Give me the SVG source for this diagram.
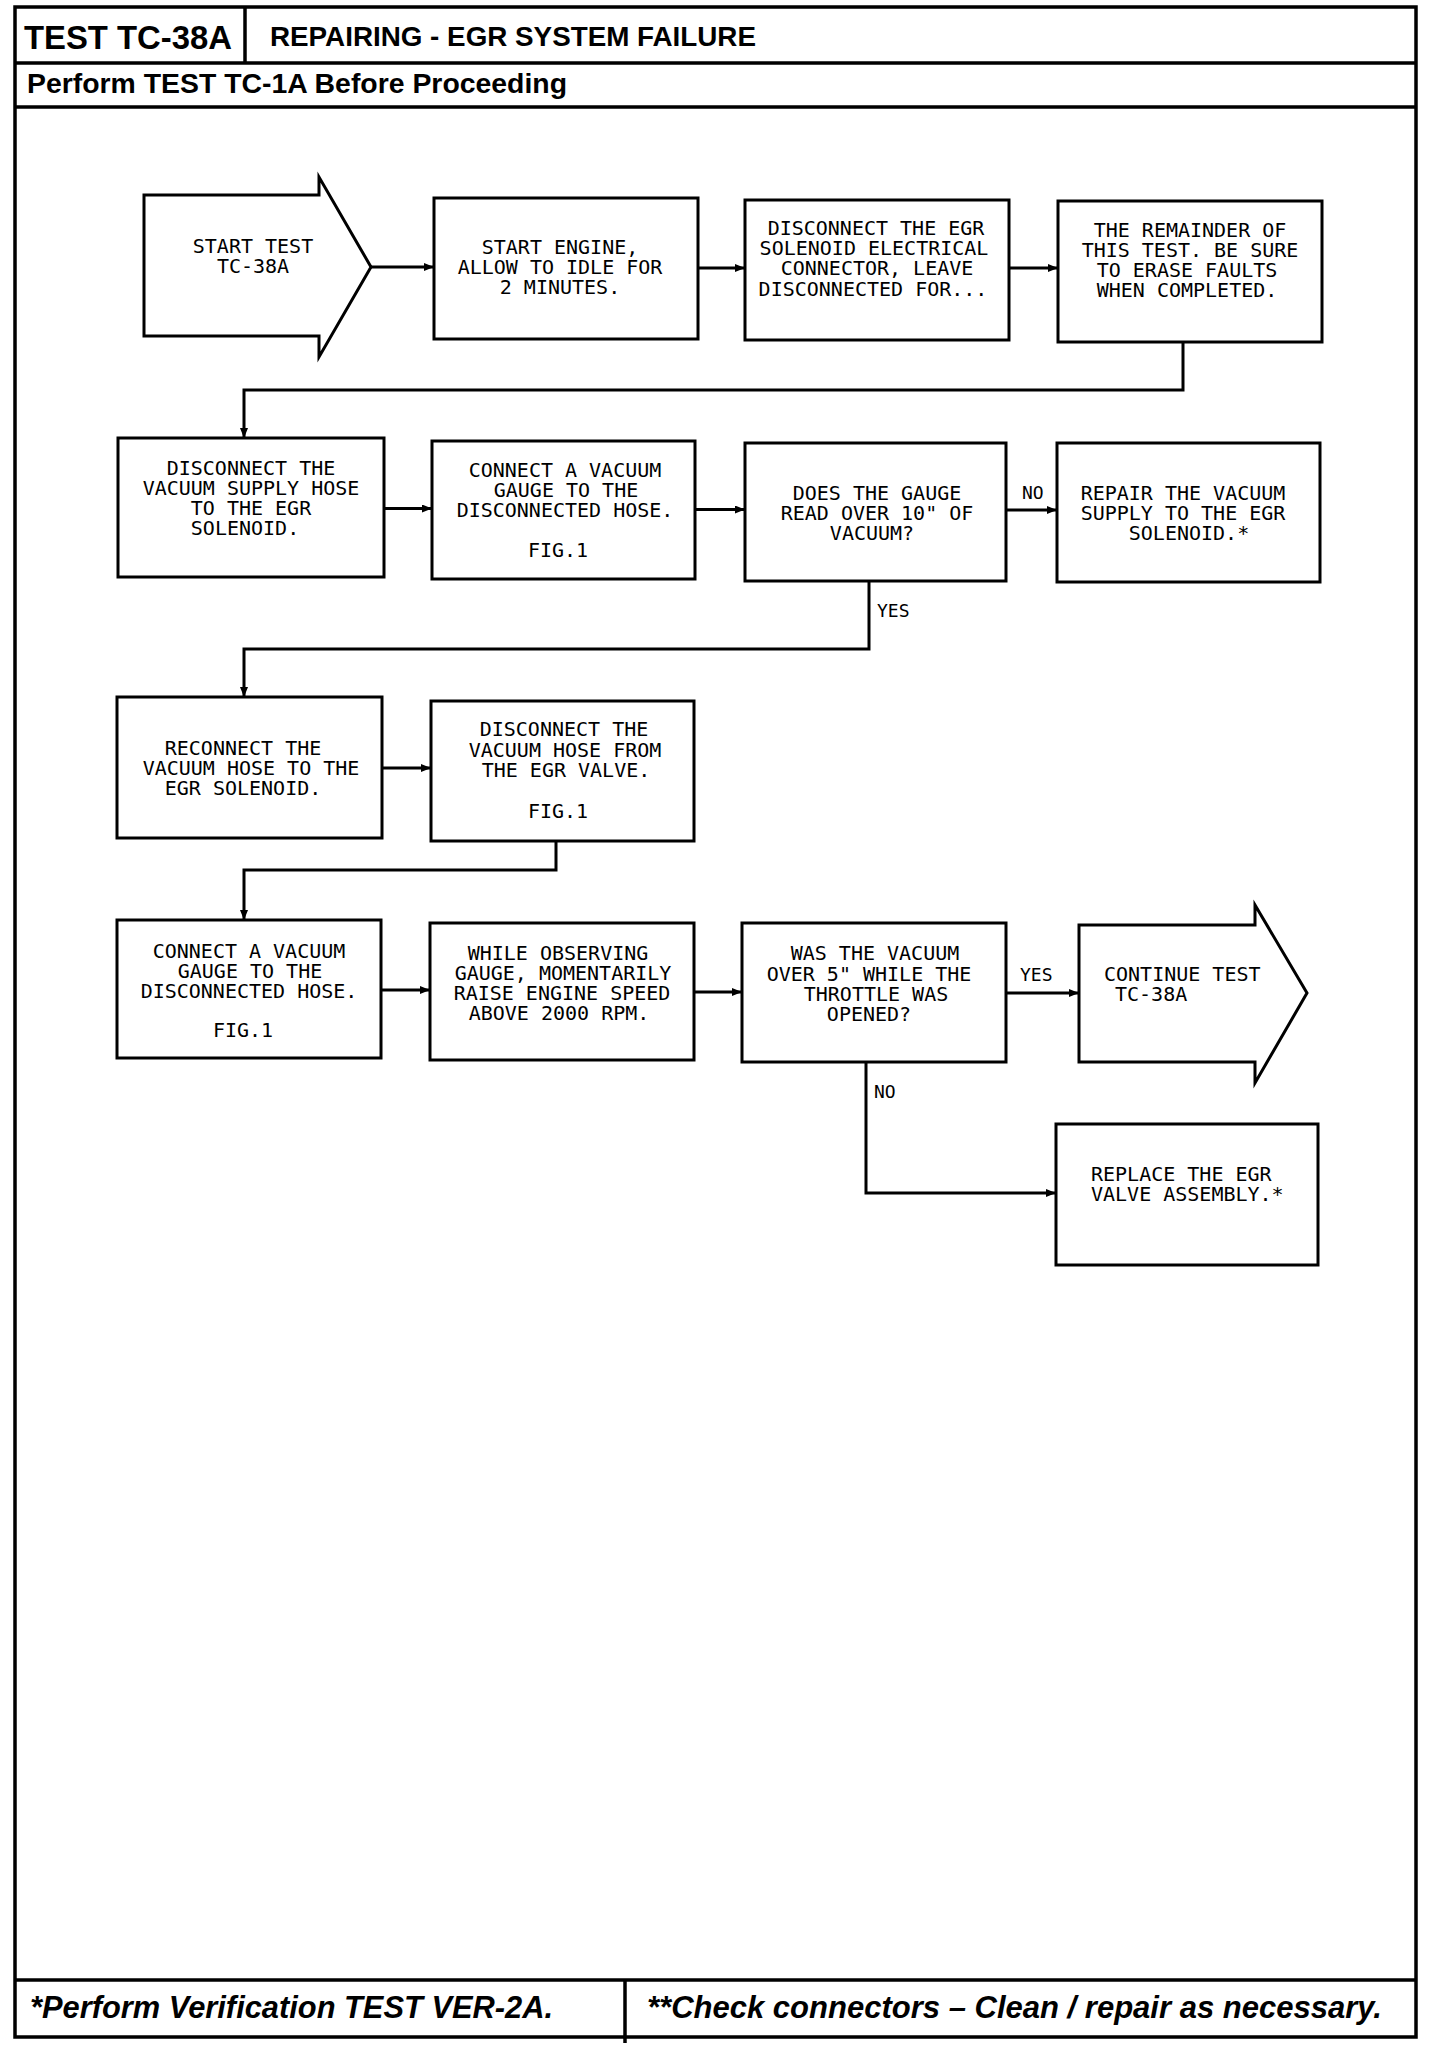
<svg xmlns="http://www.w3.org/2000/svg" width="1440" height="2048" viewBox="0 0 1440 2048">
<defs>
<marker id="ah" viewBox="0 0 10 8" refX="10" refY="4" markerWidth="10" markerHeight="8" markerUnits="userSpaceOnUse" orient="auto">
<path d="M0,0 L10,4 L0,8 Z" fill="#000"/>
</marker>
</defs>
<style>
.frame{fill:none;stroke:#000;stroke-width:3.5}
.box{fill:#fff;stroke:#000;stroke-width:3}
.con{fill:none;stroke:#000;stroke-width:3;marker-end:url(#ah)}
.t{font-family:"DejaVu Sans Mono","Liberation Mono",monospace;font-size:20px;fill:#000;text-anchor:middle}
.ts{font-family:"DejaVu Sans Mono","Liberation Mono",monospace;font-size:20px;fill:#000}
.lbl{font-family:"DejaVu Sans Mono","Liberation Mono",monospace;font-size:18px;fill:#000}
.hd{font-family:"Liberation Sans",Arial,sans-serif;font-weight:bold;fill:#000}
.ft{font-family:"Liberation Sans",Arial,sans-serif;font-weight:bold;font-style:italic;font-size:31px;fill:#000}
</style>
<rect width="1440" height="2048" fill="#fff"/>

<g id="frame">
<rect class="frame" x="15" y="7" width="1401" height="2030"/>
<line class="frame" x1="15" y1="63" x2="1416" y2="63"/>
<line class="frame" x1="245" y1="7" x2="245" y2="63"/>
<line class="frame" x1="15" y1="107" x2="1416" y2="107"/>
<line class="frame" x1="15" y1="1980" x2="1416" y2="1980"/>
<line class="frame" x1="625" y1="1980" x2="625" y2="2043"/>
<text class="hd" x="24" y="49" font-size="33" textLength="208" lengthAdjust="spacingAndGlyphs">TEST TC-38A</text>
<text class="hd" x="270" y="45.5" font-size="28" textLength="486" lengthAdjust="spacingAndGlyphs">REPAIRING - EGR SYSTEM FAILURE</text>
<text class="hd" x="27" y="93" font-size="28" textLength="540" lengthAdjust="spacingAndGlyphs">Perform TEST TC-1A Before Proceeding</text>
<text class="ft" x="30" y="2018" textLength="523" lengthAdjust="spacingAndGlyphs">*Perform Verification TEST VER-2A.</text>
<text class="ft" x="647" y="2018" textLength="735" lengthAdjust="spacingAndGlyphs">**Check connectors – Clean / repair as necessary.</text>
</g>

<g id="connectors">
<line class="con" x1="371" y1="267" x2="434" y2="267"/>
<line class="con" x1="698" y1="268" x2="745" y2="268"/>
<line class="con" x1="1009" y1="268" x2="1058" y2="268"/>
<path class="con" d="M1183,342 V390 H244 V438"/>
<line class="con" x1="384" y1="508.5" x2="432" y2="508.5"/>
<line class="con" x1="695" y1="509.5" x2="745" y2="509.5"/>
<line class="con" x1="1006" y1="510" x2="1057" y2="510"/>
<text class="lbl" x="1022" y="499">NO</text>
<path class="con" d="M869,581 V649 H244 V697"/>
<text class="lbl" x="877" y="617">YES</text>
<line class="con" x1="382" y1="768" x2="431" y2="768"/>
<path class="con" d="M556,841 V870 H244 V920"/>
<line class="con" x1="381" y1="990" x2="430" y2="990"/>
<line class="con" x1="694" y1="992" x2="742" y2="992"/>
<line class="con" x1="1006" y1="993" x2="1079" y2="993"/>
<text class="lbl" x="1020" y="981">YES</text>
<path class="con" d="M866,1062 V1193 H1056"/>
<text class="lbl" x="874" y="1098">NO</text>
</g>

<g id="n1">
<polygon class="box" points="144,195 319,195 319,177 371,267 319,357 319,336 144,336"/>
<text class="t" x="253" y="253">START TEST</text>
<text class="t" x="253" y="273">TC-38A</text>
</g>

<g id="n2">
<rect class="box" x="434" y="198" width="264" height="141"/>
<text class="t" x="560" y="254">START ENGINE,</text>
<text class="t" x="560" y="274">ALLOW TO IDLE FOR</text>
<text class="t" x="560" y="294">2 MINUTES.</text>
</g>

<g id="n3">
<rect class="box" x="745" y="200" width="264" height="140"/>
<text class="t" x="876" y="235">DISCONNECT THE EGR</text>
<text class="t" x="874" y="255">SOLENOID ELECTRICAL</text>
<text class="t" x="877" y="275">CONNECTOR, LEAVE</text>
<text class="t" x="873" y="296">DISCONNECTED FOR...</text>
</g>

<g id="n4">
<rect class="box" x="1058" y="201" width="264" height="141"/>
<text class="t" x="1190" y="237">THE REMAINDER OF</text>
<text class="t" x="1190" y="257">THIS TEST. BE SURE</text>
<text class="t" x="1187" y="277">TO ERASE FAULTS</text>
<text class="t" x="1187" y="297">WHEN COMPLETED.</text>
</g>

<g id="n5">
<rect class="box" x="118" y="438" width="266" height="139"/>
<text class="t" x="251" y="475">DISCONNECT THE</text>
<text class="t" x="251" y="495">VACUUM SUPPLY HOSE</text>
<text class="t" x="251" y="515">TO THE EGR</text>
<text class="t" x="245" y="535">SOLENOID.</text>
</g>

<g id="n6">
<rect class="box" x="432" y="441" width="263" height="138"/>
<text class="t" x="565" y="476.5">CONNECT A VACUUM</text>
<text class="t" x="566" y="496.5">GAUGE TO THE</text>
<text class="t" x="565" y="516.5">DISCONNECTED HOSE.</text>
<text class="t" x="558" y="556.5">FIG.1</text>
</g>

<g id="n7">
<rect class="box" x="745" y="443" width="261" height="138"/>
<text class="t" x="877" y="499.5">DOES THE GAUGE</text>
<text class="t" x="877" y="519.5">READ OVER 10" OF</text>
<text class="t" x="872" y="539.5">VACUUM?</text>
</g>

<g id="n8">
<rect class="box" x="1057" y="443" width="263" height="139"/>
<text class="t" x="1183" y="499.5">REPAIR THE VACUUM</text>
<text class="t" x="1183" y="519.5">SUPPLY TO THE EGR</text>
<text class="t" x="1189" y="539.5">SOLENOID.*</text>
</g>

<g id="n9">
<rect class="box" x="117" y="697" width="265" height="141"/>
<text class="t" x="243" y="754.5">RECONNECT THE</text>
<text class="t" x="251" y="774.5">VACUUM HOSE TO THE</text>
<text class="t" x="243" y="795">EGR SOLENOID.</text>
</g>

<g id="n10">
<rect class="box" x="431" y="701" width="263" height="140"/>
<text class="t" x="564" y="736">DISCONNECT THE</text>
<text class="t" x="565" y="757">VACUUM HOSE FROM</text>
<text class="t" x="566" y="777">THE EGR VALVE.</text>
<text class="t" x="558" y="818">FIG.1</text>
</g>

<g id="n11">
<rect class="box" x="117" y="920" width="264" height="138"/>
<text class="t" x="249" y="957.5">CONNECT A VACUUM</text>
<text class="t" x="250" y="977.5">GAUGE TO THE</text>
<text class="t" x="249" y="997.5">DISCONNECTED HOSE.</text>
<text class="t" x="243" y="1037">FIG.1</text>
</g>

<g id="n12">
<rect class="box" x="430" y="923" width="264" height="137"/>
<text class="t" x="558" y="960">WHILE OBSERVING</text>
<text class="t" x="563" y="980">GAUGE, MOMENTARILY</text>
<text class="t" x="562" y="1000">RAISE ENGINE SPEED</text>
<text class="t" x="559" y="1020">ABOVE 2000 RPM.</text>
</g>

<g id="n13">
<rect class="box" x="742" y="923" width="264" height="139"/>
<text class="t" x="875" y="960">WAS THE VACUUM</text>
<text class="t" x="869" y="980.5">OVER 5" WHILE THE</text>
<text class="t" x="876" y="1000.5">THROTTLE WAS</text>
<text class="t" x="869" y="1020.5">OPENED?</text>
</g>

<g id="n14">
<polygon class="box" points="1079,925 1255,925 1255,905 1307,993 1255,1083 1255,1062 1079,1062"/>
<text class="ts" x="1104" y="981">CONTINUE TEST</text>
<text class="ts" x="1115" y="1001">TC-38A</text>
</g>

<g id="n15">
<rect class="box" x="1056" y="1124" width="262" height="141"/>
<text class="ts" x="1091" y="1180.5">REPLACE THE EGR</text>
<text class="ts" x="1091" y="1200.5">VALVE ASSEMBLY.*</text>
</g>
</svg>
